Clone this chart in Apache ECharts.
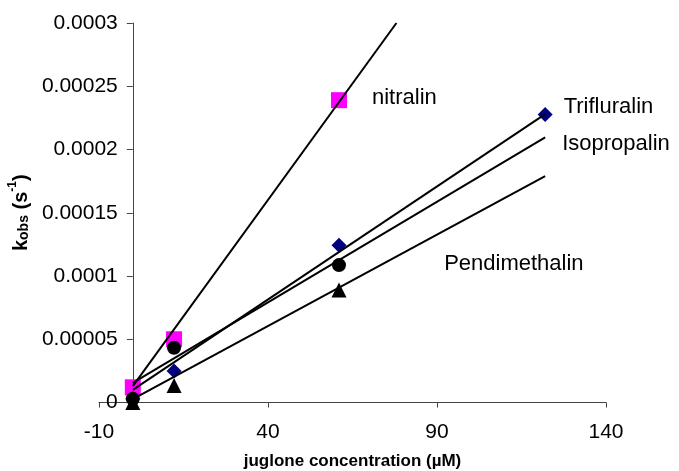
<!DOCTYPE html>
<html><head><meta charset="utf-8">
<script src="https://cdn.jsdelivr.net/npm/echarts@6/dist/echarts.min.js"></script>
<style>html,body{margin:0;padding:0;background:#fff}#c{width:679px;height:471px}</style>
</head><body><div id="c"></div>
<script>
// ---- data ----
const concentrations = [0, 12.2, 61, 122];           // juglone concentration (µM)
const nitralinValues = [1.2e-5, 5.0e-5, 2.39e-4];     // at concentrations[0..2]
const trifluralinValues = [0.3e-5, 2.5e-5, 1.244e-4, 2.276e-4];
const isopropalinValues = [0.3e-5, 4.33e-5, 1.086e-4];
const pendimethalinValues = [0, 1.35e-5, 8.9e-5];

// linear trend lines: start / end x and y
const nitralinFitX = [0, 78];      const nitralinFitY = [1.3e-5, 3.0e-4];
const trifluralinFitX = [0, 122];  const trifluralinFitY = [1.0e-5, 2.28e-4];
const isopropalinFitX = [0, 122];  const isopropalinFitY = [1.55e-5, 2.095e-4];
const pendimethalinFitX = [0, 122]; const pendimethalinFitY = [2.6e-6, 1.79e-4];

const seriesNames = ['nitralin', 'Trifluralin', 'Isopropalin', 'Pendimethalin'];
const xTicks = [-10, 40, 90, 140];
const yTicks = [0, 0.00005, 0.0001, 0.00015, 0.0002, 0.00025, 0.0003];

// ---- chart ----
const FONT = '"Liberation Sans", Arial, sans-serif';
const labelStyle = { fontSize: 22, fontFamily: FONT, color: '#000' };
const W = 679, GRID_LEFT = 99, GRID_RIGHT = 73;
const xMin = xTicks[0], xMax = xTicks[xTicks.length - 1];
// y axis sits at x = 0: shift it right from the grid's left edge
const yAxisOffset = -((0 - xMin) / (xMax - xMin)) * (W - GRID_LEFT - GRID_RIGHT);

function pts(xs, ys) { return ys.map((y, i) => [xs[i], y]); }

function scatterData(values, labelIndex, labelOpt) {
  return values.map((y, i) => {
    const item = { value: [concentrations[i], y] };
    if (i === labelIndex) item.label = Object.assign({ show: true }, labelStyle, labelOpt);
    return item;
  });
}

function fitSeries(xs, ys, endLabel) {
  const s = {
    type: 'line', data: pts(xs, ys), symbol: 'none', z: 5,
    lineStyle: { color: '#000', width: 2 }, silent: true, clip: true
  };
  if (endLabel) s.endLabel = Object.assign({ show: true }, labelStyle, endLabel);
  return s;
}

const chart = echarts.init(document.getElementById('c'));
chart.setOption({
  animation: false,
  backgroundColor: '#fff',
  grid: { left: GRID_LEFT, right: GRID_RIGHT, top: 23, bottom: 68.5, containLabel: false, outerBoundsMode: 'none' },
  xAxis: {
    type: 'value', min: xMin, max: xMax,
    interval: xTicks[1] - xTicks[0],
    name: 'juglone concentration (µM)', nameLocation: 'middle', nameGap: 50,
    nameTextStyle: { fontSize: 17, fontWeight: 'bold', fontFamily: FONT, color: '#000' },
    axisLine: { onZero: false, lineStyle: { color: '#444', width: 1 } },
    axisTick: { show: true, length: 5, lineStyle: { color: '#444' } },
    axisLabel: { fontSize: 21, fontFamily: FONT, color: '#000', margin: 19 },
    splitLine: { show: false }
  },
  yAxis: {
    type: 'value', min: yTicks[0], max: yTicks[yTicks.length - 1],
    interval: yTicks[1] - yTicks[0],
    offset: yAxisOffset,
    name: '{b|k}{s|obs}{b| (s}{p|-1}{b|)}', nameLocation: 'middle', nameRotate: 90, nameGap: 100,
    nameTextStyle: {
      fontFamily: FONT, color: '#000', lineHeight: 24,
      rich: {
        b: { fontSize: 20, fontWeight: 'bold', fontFamily: FONT, color: '#000', verticalAlign: 'bottom', lineHeight: 24 },
        s: { fontSize: 14, fontWeight: 'bold', fontFamily: FONT, color: '#000', verticalAlign: 'bottom', lineHeight: 24 },
        p: { fontSize: 12, fontWeight: 'bold', fontFamily: FONT, color: '#000', verticalAlign: 'top', lineHeight: 24 }
      }
    },
    axisLine: { onZero: false, lineStyle: { color: '#444', width: 1 } },
    axisTick: { show: true, length: 6, lineStyle: { color: '#444' } },
    axisLabel: {
      fontSize: 21, fontFamily: FONT, color: '#000', margin: 15,
      formatter: v => String(parseFloat(Number(v).toPrecision(6)))
    },
    splitLine: { show: false }
  },
  series: [
    { name: seriesNames[0], type: 'scatter', symbol: 'rect', symbolSize: 16, z: 2,
      itemStyle: { color: '#FF00FF', opacity: 1 },
      data: scatterData(nitralinValues, 2, { formatter: seriesNames[0], position: 'right', distance: 25, offset: [0, -2] }) },
    { name: seriesNames[1], type: 'scatter', symbol: 'diamond', symbolSize: 15, z: 3,
      itemStyle: { color: '#000080', opacity: 1 },
      data: scatterData(trifluralinValues, 3, { formatter: seriesNames[1], position: 'right', distance: 11, offset: [0, -8] }) },
    { name: seriesNames[2], type: 'scatter', symbol: 'circle', symbolSize: 14, z: 3,
      itemStyle: { color: '#000', opacity: 1 },
      data: scatterData(isopropalinValues, -1) },
    { name: seriesNames[3], type: 'scatter', symbol: 'triangle', symbolSize: 15, z: 4,
      itemStyle: { color: '#000', opacity: 1 },
      data: scatterData(pendimethalinValues, -1) },
    fitSeries(nitralinFitX, nitralinFitY),
    fitSeries(trifluralinFitX, trifluralinFitY),
    fitSeries(isopropalinFitX, isopropalinFitY, { formatter: seriesNames[2], distance: 0, offset: [17, 6] }),
    fitSeries(pendimethalinFitX, pendimethalinFitY, { formatter: seriesNames[3], distance: 0, offset: [-101, 88] })
  ]
});
</script></body></html>
